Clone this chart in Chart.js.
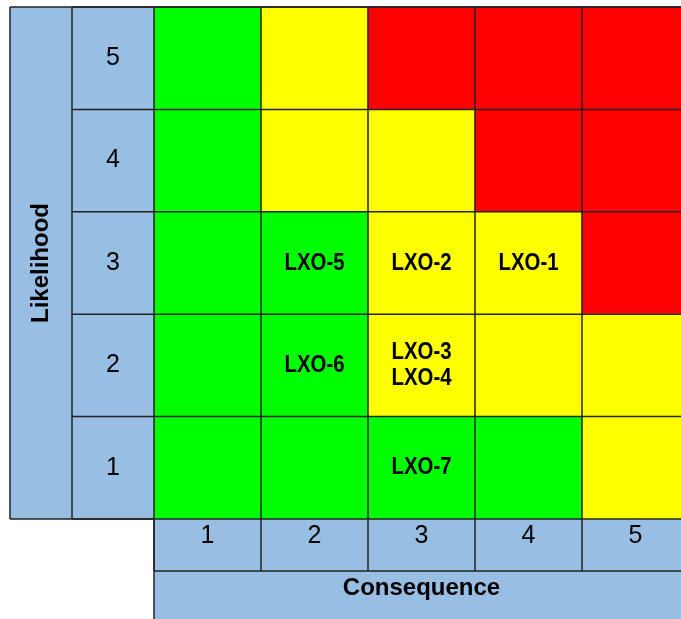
<!DOCTYPE html>
<html>
<head>
<meta charset="utf-8">
<script src="https://cdn.jsdelivr.net/npm/chart.js@4.4.1/dist/chart.umd.min.js"></script>
<style>
    html, body { margin: 0; padding: 0; background: #fff; overflow: hidden; }
    #wrap { position: absolute; left: 0; top: 0; width: 700px; height: 619px; }
</style>
</head>
<body>
<div id="wrap"><canvas id="matriz"></canvas></div>
<script>
// Datos de la matriz de riesgo
const consecuencia = ["1", "2", "3", "4", "5"];
const probabilidad = [1, 2, 3, 4, 5];

// nivel por fila (probabilidad 1..5), columnas = consecuencia 1..5
const nivelFila1 = ["G", "G", "G", "G", "Y"];
const nivelFila2 = ["G", "G", "Y", "Y", "Y"];
const nivelFila3 = ["G", "G", "Y", "Y", "R"];
const nivelFila4 = ["G", "Y", "Y", "R", "R"];
const nivelFila5 = ["G", "Y", "R", "R", "R"];
const niveles = [nivelFila1, nivelFila2, nivelFila3, nivelFila4, nivelFila5];

// riesgos ubicados en la matriz
const riesgoIds = ["LXO-1", "LXO-2", "LXO-3", "LXO-4", "LXO-5", "LXO-6", "LXO-7"];
const riesgoConsecuencia = ["4", "3", "3", "3", "2", "2", "3"];
const riesgoProbabilidad = [3, 3, 2, 2, 3, 2, 1];

const colores = { G: "#00ff00", Y: "#ffff00", R: "#ff0000" };
const AZUL = "#98bee4";
const LINEA = "#222222";
const FUENTE = "'Liberation Sans', Arial, sans-serif";

let datasets = probabilidad.map((p, i) => ({
    label: "Probabilidad " + p,
    data: consecuencia.map(() => [p - 0.5, p + 0.5]),
    backgroundColor: niveles[i].map(n => colores[n]),
    borderWidth: 0,
    grouped: false,
    barPercentage: 1,
    categoryPercentage: 1
}));

// fondo azul de los ejes y lineas de la tabla
const marco = {
    id: "marco",
    beforeDraw(chart) {
        const { ctx, scales: { x, y } } = chart;
        ctx.save();
        ctx.fillStyle = AZUL;
        ctx.fillRect(y.left, y.top, y.width, y.height);
        ctx.fillRect(x.left, x.top, x.width, x.height);
        ctx.restore();
    },
    afterDraw(chart) {
        const { ctx, scales: { x, y } } = chart;
        const divisor = y.left + 62;
        const filaTicks = x.top + 52;
        const linea = (x1, y1, x2, y2) => {
            ctx.beginPath();
            ctx.moveTo(x1, y1);
            ctx.lineTo(x2, y2);
            ctx.stroke();
        };
        ctx.save();
        ctx.strokeStyle = LINEA;
        ctx.lineWidth = 1.5;
        linea(y.left, y.top, x.right, y.top);
        linea(y.left, y.top, y.left, y.bottom);
        linea(y.left, y.bottom, x.left, y.bottom);
        linea(divisor, y.top, divisor, y.bottom);
        probabilidad.concat([probabilidad.length + 1]).forEach(p => {
            let py = y.getPixelForValue(p - 0.5);
            linea(divisor, py, x.right, py);
        });
        let anchoCol = x.width / consecuencia.length;
        for (let i = 0; i <= consecuencia.length; i++) {
            let px = x.left + i * anchoCol;
            linea(px, y.top, px, filaTicks);
        }
        linea(x.left, y.bottom, x.left, x.bottom);
        linea(x.left, filaTicks, x.right, filaTicks);
        ctx.restore();
    }
};

// etiquetas LXO dentro de cada celda (letra algo estrecha)
const etiquetas = {
    id: "etiquetas",
    afterDatasetsDraw(chart) {
        const { ctx, scales: { x, y } } = chart;
        let celdas = {};
        riesgoIds.forEach((id, i) => {
            let clave = riesgoConsecuencia[i] + "|" + riesgoProbabilidad[i];
            (celdas[clave] = celdas[clave] || []).push(id);
        });
        ctx.save();
        ctx.fillStyle = "#000";
        ctx.font = "bold 24px " + FUENTE;
        ctx.textAlign = "center";
        ctx.textBaseline = "middle";
        Object.keys(celdas).forEach(clave => {
            let [c, p] = clave.split("|");
            let lista = celdas[clave];
            let cx = x.getPixelForValue(consecuencia.indexOf(c));
            let cy = y.getPixelForValue(Number(p));
            let salto = 26;
            lista.forEach((txt, k) => {
                ctx.save();
                ctx.translate(cx, cy + (k - (lista.length - 1) / 2) * salto);
                ctx.scale(0.85, 1);
                ctx.fillText(txt, 0, 0);
                ctx.restore();
            });
        });
        ctx.restore();
    }
};

new Chart(document.getElementById("matriz"), {
    type: "bar",
    data: { labels: consecuencia, datasets: datasets },
    options: {
        responsive: true,
        maintainAspectRatio: false,
        animation: false,
        layout: { padding: { left: 10, top: 7, right: 11, bottom: 0 } },
        plugins: {
            legend: { display: false },
            tooltip: { enabled: false }
        },
        scales: {
            x: {
                type: "category",
                grid: { display: false, drawTicks: false },
                border: { display: false },
                ticks: {
                    color: "#000",
                    padding: 2,
                    font: { family: FUENTE, size: 25 }
                },
                title: {
                    display: true,
                    text: "Consequence",
                    color: "#000",
                    font: { family: FUENTE, size: 24, weight: "bold" },
                    padding: { top: 0, bottom: 16 }
                },
                afterFit: s => { s.height = 100; s.paddingLeft = 0; s.paddingRight = 0; }
            },
            y: {
                type: "linear",
                min: 0.5,
                max: 5.5,
                grid: { display: false, drawTicks: false },
                border: { display: false },
                afterBuildTicks: s => { s.ticks = probabilidad.map(v => ({ value: v })); },
                ticks: {
                    color: "#000",
                    padding: 34,
                    crossAlign: "center",
                    font: { family: FUENTE, size: 25 }
                },
                title: {
                    display: true,
                    text: "Likelihood",
                    color: "#000",
                    font: { family: FUENTE, size: 24, weight: "bold" },
                    padding: { top: 17, bottom: 0 }
                },
                afterFit: s => { s.width = 144; s.paddingTop = 0; s.paddingBottom = 0; }
            }
        }
    },
    plugins: [marco, etiquetas]
});
</script>
</body>
</html>
